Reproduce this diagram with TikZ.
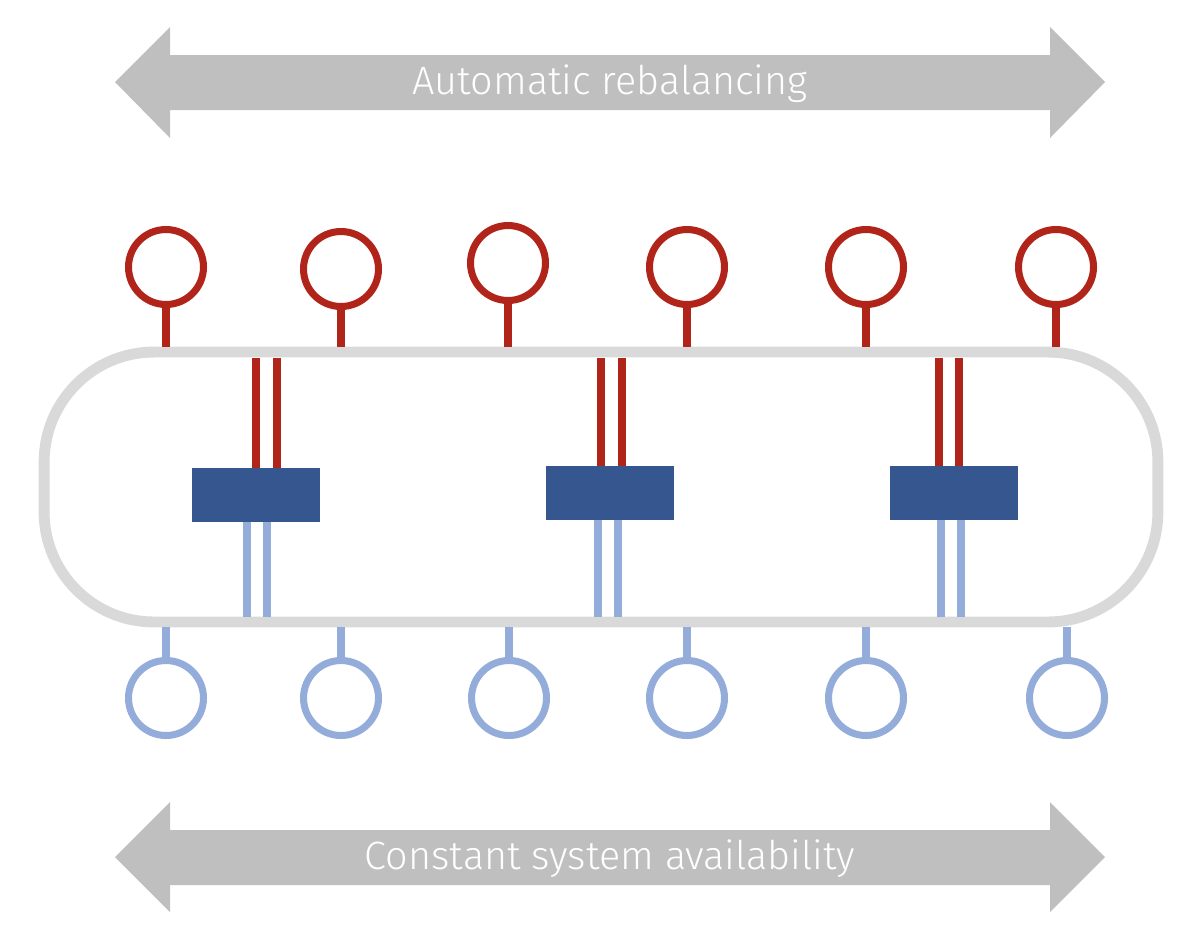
\documentclass[tikz,border=0pt]{standalone}
\usepackage{fontspec}
\newfontfamily\bannerfont{Fira Sans Light}
\definecolor{nodered}{HTML}{B0241A}
\definecolor{nodeblue}{HTML}{93ACD9}
\definecolor{boxblue}{HTML}{365690}
\definecolor{ringgray}{HTML}{D9D9D9}
\definecolor{bannergray}{HTML}{BFBFBF}
\tikzset{
  redpin/.style={circle,draw=nodered,line width=4pt,minimum size=1.5cm,inner sep=0pt},
  bluepin/.style={circle,draw=nodeblue,line width=4pt,minimum size=1.5cm,inner sep=0pt},
  redwire/.style={draw=nodered,line width=4.5pt},
  bluewire/.style={draw=nodeblue,line width=4.5pt},
  broker/.style={rectangle,fill=boxblue,minimum width=2.56cm,minimum height=1.08cm,inner sep=0pt},
  bannertext/.style={text=white,font=\bannerfont\fontsize{22.5}{27}\selectfont}
}
\begin{document}
\begin{tikzpicture}[x=0.02cm,y=-0.02cm]
\useasboundingbox (0,0) rectangle (1196,934);

% banners
\fill[bannergray] (115,82) -- (170,27) -- (170,55) -- (1050,55) -- (1050,27) -- (1105,82)
  -- (1050,138) -- (1050,110) -- (170,110) -- (170,138) -- cycle;
\node[bannertext] (top) at (610,84) {Automatic rebalancing};
\fill[bannergray] (115,857) -- (170,802) -- (170,830) -- (1050,830) -- (1050,802) -- (1105,857)
  -- (1050,912) -- (1050,885) -- (170,885) -- (170,912) -- cycle;
\node[bannertext] (bottom) at (610,859) {Constant system availability};

% ring
\node[draw=ringgray,line width=6.2pt,rounded corners=2.2cm,minimum width=22.28cm,minimum height=5.4cm,inner sep=0pt] (ring) at (601,487) {};

% pins on top and bottom
\foreach \x/\y [count=\i] in {166/267,341/269,508/263,687/267,866/267,1056/267} {
  \node[redpin] (r\i) at (\x,\y) {};
  \draw[redwire] (r\i.south) -- (r\i.south |- ring.north);
}
\foreach \x [count=\i] in {166,341,509,687,866,1067} {
  \node[bluepin] (b\i) at (\x,698) {};
  \draw[bluewire] (b\i.north) -- (b\i.north |- ring.south);
}

% brokers
\node[broker] (k1) at (256,495) {};
\node[broker] (k2) at (610,493) {};
\node[broker] (k3) at (954,493) {};
\foreach \i/\a/\b/\c/\d in {1/256/277/247/267,2/601/622/598/618,3/939/959/941/961} {
  \coordinate (ta) at (\a,358);
  \coordinate (tb) at (\b,358);
  \draw[redwire] (ta) -- (ta |- k\i.north);
  \draw[redwire] (tb) -- (tb |- k\i.north);
  \coordinate (ba) at (\c,617);
  \coordinate (bb) at (\d,617);
  \draw[bluewire] (ba) -- (ba |- k\i.south);
  \draw[bluewire] (bb) -- (bb |- k\i.south);
}
\end{tikzpicture}
\end{document}
